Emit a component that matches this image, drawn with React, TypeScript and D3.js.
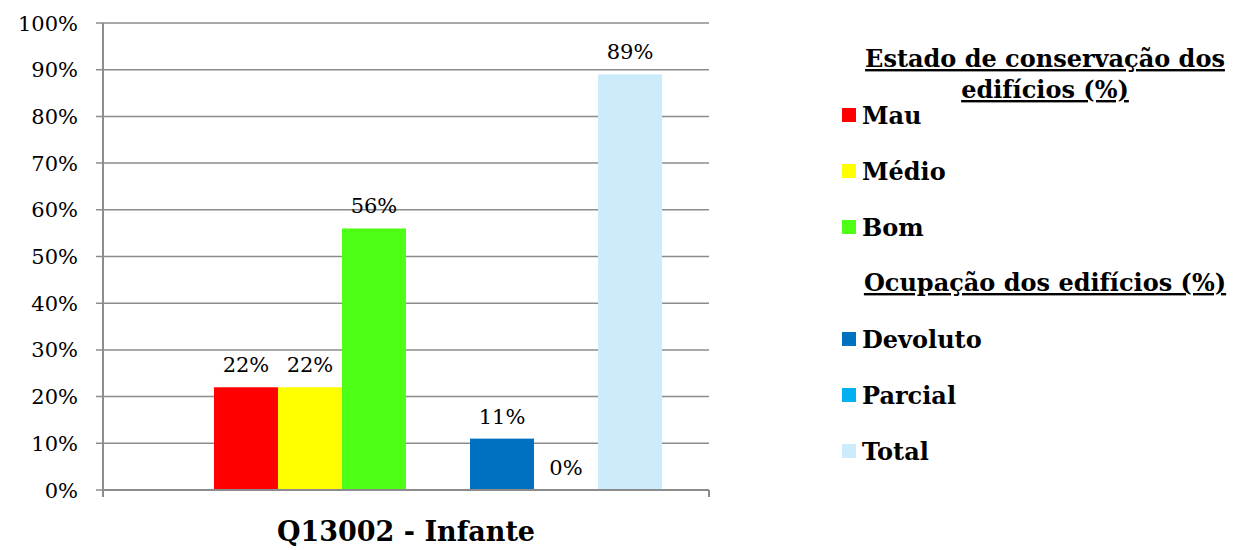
import React from 'react';
import * as d3 from 'd3';

// chart data
const category = 'Q13002 - Infante';
const seriesNames = [
	'Estado de conservação dos edifícios (%)',
	'Mau',
	'Médio',
	'Bom',
	'Ocupação dos edifícios (%)',
	'Devoluto',
	'Parcial',
	'Total',
];
const seriesValues: (number | null)[] = [null, 22, 22, 56, null, 11, 0, 89];
const seriesColors: (string | null)[] = [null, '#FF0000', '#FFFF00', '#4CFF14', null, '#0070C0', '#00B0F0', '#CCEBFB'];
const headerLines: Record<number, string[]> = {
	0: ['Estado de conservação dos', 'edifícios (%)'],
	4: ['Ocupação dos edifícios (%)'],
};
const yTicks = [0, 10, 20, 30, 40, 50, 60, 70, 80, 90, 100];

const width = 1236;
const height = 550;
const margin = { left: 103, right: 527, top: 23, bottom: 60 };
const font = '"DejaVu Serif", Georgia, serif';
const gridColor = '#8C8C8C';

export default function App() {
	const x0 = margin.left;
	const x1 = width - margin.right;
	const yBottom = height - margin.bottom;

	const yScale = d3.scaleLinear().domain([0, 100]).range([yBottom, margin.top]);
	const xScale = d3
		.scaleBand<number>()
		.domain(seriesNames.map((_, i) => i))
		.range([x0, x1])
		.paddingInner(0)
		.paddingOuter(0.734);
	const legendY = d3
		.scalePoint<number>()
		.domain(seriesNames.map((_, i) => i))
		.range([59, 451]);

	return (
		<svg width={width} height={height} style={{ position: 'absolute', left: 0, top: 0, background: '#fff' }}>
			{/* gridlines */}
			{yTicks.map(t => (
				<line key={'g' + t} x1={x0 - 7} x2={x1} y1={yScale(t)} y2={yScale(t)} stroke={gridColor} strokeWidth={1.5} />
			))}
			{/* y labels */}
			{yTicks.map(t => (
				<text
					key={'t' + t}
					x={78}
					y={yScale(t)}
					dy="0.36em"
					textAnchor="end"
					fontFamily={font}
					fontSize={21}
					fill="#000"
				>
					{t + '%'}
				</text>
			))}
			{/* bars */}
			{seriesValues.map((v, i) =>
				v === null ? null : (
					<rect
						key={'b' + i}
						x={xScale(i)}
						width={xScale.bandwidth()}
						y={yScale(v)}
						height={yBottom - yScale(v)}
						fill={seriesColors[i] as string}
					/>
				)
			)}
			{seriesValues.map((v, i) =>
				v === null ? null : (
					<text
						key={'l' + i}
						x={(xScale(i) as number) + xScale.bandwidth() / 2}
						y={yScale(v) - 15}
						textAnchor="middle"
						fontFamily={font}
						fontSize={21}
						fill="#000"
					>
						{v + '%'}
					</text>
				)
			)}
			{/* axes */}
			<line x1={x0} x2={x0} y1={margin.top} y2={yBottom + 7} stroke={gridColor} strokeWidth={2} />
			<line x1={x0} x2={x1} y1={yBottom} y2={yBottom} stroke={gridColor} strokeWidth={2} />
			<line x1={x1} x2={x1} y1={yBottom} y2={yBottom + 7} stroke={gridColor} strokeWidth={2} />
			<text
				x={(x0 + x1) / 2}
				y={yBottom + 51}
				textAnchor="middle"
				fontFamily={font}
				fontWeight="bold"
				fontSize={27}
				fill="#000"
			>
				{category}
			</text>
			{/* legend */}
			{seriesNames.map((name, i) => {
				const cy = legendY(i) as number;
				if (seriesColors[i] === null) {
					return (
						<g key={'h' + i}>
							{headerLines[i].map((ln, j) => (
								<text
									key={j}
									x={1045}
									y={cy + 8 + j * 31}
									textAnchor="middle"
									fontFamily={font}
									fontWeight="bold"
									fontSize={24}
									style={{ textDecoration: 'underline' }}
									fill="#000"
								>
									{ln}
								</text>
							))}
						</g>
					);
				}
				return (
					<g key={'e' + i}>
						<rect x={842} y={cy - 7} width={14} height={14} fill={seriesColors[i] as string} />
						<text x={862} y={cy} dy="0.36em" fontFamily={font} fontWeight="bold" fontSize={24} fill="#000">
							{name}
						</text>
					</g>
				);
			})}
		</svg>
	);
}
